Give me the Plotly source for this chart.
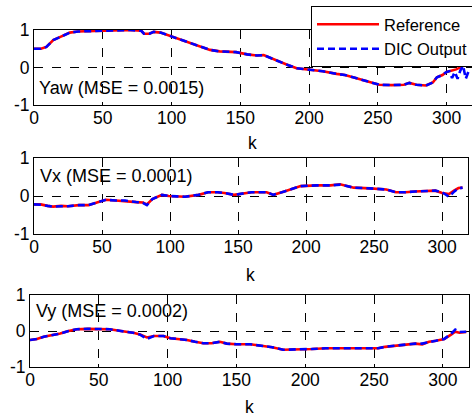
import plotly.graph_objects as go

# ---------------- data ----------------
yaw_k = [0, 5, 9, 14, 20, 26, 32, 40, 50, 60, 70, 78, 80, 84, 87, 92, 100, 110, 121, 128,
         135, 142, 147, 155, 162, 167, 172, 178, 185, 191, 200, 210, 220, 226, 232, 238, 244,
         251, 260, 269, 273, 278, 285, 290, 293, 297, 300, 304, 307, 311, 313, 316]
yaw_ref = [0.5, 0.5, 0.55, 0.73, 0.83, 0.93, 0.96, 0.97, 0.98, 1.0, 1.0, 0.98, 0.9, 0.9, 0.95,
           0.93, 0.83, 0.7, 0.55, 0.47, 0.43, 0.42, 0.41, 0.35, 0.32, 0.33, 0.25, 0.16, 0.06,
           -0.02, -0.06, -0.1, -0.17, -0.2, -0.26, -0.32, -0.37, -0.46, -0.47, -0.46, -0.41,
           -0.46, -0.48, -0.4, -0.26, -0.2, -0.12, -0.08, -0.05, 0.02, 0.08, 0.08]
yaw_dic_k = yaw_k[:47] + [302, 304, 306, 308, 310, 312, 314, 316]
yaw_dic = yaw_ref[:47] + [-0.1, -0.28, -0.12, -0.3, -0.08, 0.05, -0.3, -0.1]

vx_k = [0, 5, 10, 14, 20, 25, 33, 40, 48, 53, 60, 67, 75, 80, 83, 87, 94, 99, 105, 111, 121,
        128, 135, 140, 147, 153, 160, 171, 176, 184, 190, 196, 208, 218, 225, 230, 235, 247,
        259, 266, 273, 280, 288, 295, 300, 305, 309, 312, 315]
vx_ref = [-0.22, -0.22, -0.26, -0.28, -0.26, -0.27, -0.24, -0.24, -0.15, -0.1, -0.12, -0.13,
          -0.16, -0.17, -0.22, -0.08, 0.03, 0.0, -0.01, -0.02, 0.03, 0.1, 0.1, 0.08, 0.03, 0.07,
          0.1, 0.1, 0.03, 0.12, 0.2, 0.26, 0.28, 0.28, 0.31, 0.26, 0.22, 0.2, 0.17, 0.1, 0.1,
          0.12, 0.13, 0.14, 0.08, 0.05, 0.15, 0.21, 0.22]
vx_dic = [-0.22, -0.23, -0.26, -0.28, -0.27, -0.27, -0.24, -0.24, -0.15, -0.1, -0.12, -0.12,
          -0.16, -0.18, -0.24, -0.08, 0.03, 0.0, -0.01, -0.02, 0.03, 0.1, 0.1, 0.08, 0.03, 0.07,
          0.1, 0.1, 0.03, 0.12, 0.2, 0.26, 0.28, 0.28, 0.3, 0.26, 0.22, 0.2, 0.17, 0.1, 0.1,
          0.12, 0.13, 0.14, 0.1, -0.02, 0.12, 0.2, 0.22]

vy_k = [0, 5, 10, 16, 22, 28, 34, 42, 50, 58, 66, 75, 80, 85, 90, 97, 102, 108, 114, 120,
        126, 132, 138, 143, 150, 160, 169, 176, 184, 190, 198, 205, 215, 229, 240, 253, 258,
        264, 272, 280, 285, 290, 295, 301, 306, 309, 312, 317]
vy_ref = [-0.25, -0.22, -0.16, -0.12, -0.07, 0.0, 0.05, 0.06, 0.05, 0.05, 0.0, -0.05, -0.1,
          -0.18, -0.14, -0.14, -0.2, -0.22, -0.25, -0.3, -0.34, -0.34, -0.3, -0.35, -0.37,
          -0.37, -0.42, -0.45, -0.52, -0.52, -0.52, -0.5, -0.48, -0.48, -0.48, -0.48, -0.44,
          -0.41, -0.38, -0.35, -0.37, -0.3, -0.27, -0.22, -0.1, -0.02, -0.05, -0.03]
vy_dic = [-0.25, -0.22, -0.16, -0.12, -0.07, 0.0, 0.05, 0.06, 0.05, 0.05, 0.0, -0.05, -0.1,
          -0.22, -0.14, -0.14, -0.2, -0.22, -0.25, -0.3, -0.34, -0.34, -0.3, -0.35, -0.37,
          -0.37, -0.42, -0.45, -0.52, -0.52, -0.52, -0.5, -0.48, -0.48, -0.48, -0.48, -0.44,
          -0.41, -0.38, -0.35, -0.35, -0.3, -0.27, -0.22, -0.08, 0.04, -0.03, -0.02]

panel_labels = ["Yaw (MSE = 0.0015)", "Vx (MSE = 0.0001)", "Vy (MSE = 0.0002)"]
x_ticks = [0, 50, 100, 150, 200, 250, 300]
y_ticks = [-1, 0, 1]
series_names = ["Reference", "DIC Output"]

# ---------------- layout geometry (pixels) ----------------
W, H = 472, 418
def px_x(p): return p / W
def px_y(p): return 1 - p / H

panels = [
    dict(x0=34, x1=472, y0=30, y1=105, xmax=318.5, data=(yaw_k, yaw_ref, yaw_dic_k, yaw_dic),
         lab_y=88, lab_x=37, k_y=143, k_x=252),
    dict(x0=34, x1=468, y0=158, y1=234, xmax=319, data=(vx_k, vx_ref, vx_k, vx_dic),
         lab_y=176, lab_x=38, k_y=275, k_x=250),
    dict(x0=30, x1=469, y0=295, y1=367, xmax=319, data=(vy_k, vy_ref, vy_k, vy_dic),
         lab_y=311, lab_x=34, k_y=407, k_x=249),
]

FONT = "Liberation Sans, Arial, sans-serif"
FS = 17.5
fig = go.Figure()
layout = dict(
    width=W, height=H, margin=dict(l=0, r=0, t=0, b=0, autoexpand=False),
    paper_bgcolor="white", plot_bgcolor="white",
    font=dict(family=FONT, size=FS, color="black"),
    showlegend=True,
    legend=dict(x=px_x(311), y=px_y(6), xanchor="left", yanchor="top",
                bgcolor="white", bordercolor="black", borderwidth=1,
                font=dict(family=FONT, size=16.5, color="black"),
                tracegroupgap=0, itemwidth=62),
)
annotations = []
for i, p in enumerate(panels):
    n = "" if i == 0 else str(i + 1)
    kr, vr, kd, vd = p["data"]
    fig.add_trace(go.Scatter(x=kr, y=vr, mode="lines", name=series_names[0],
                             line=dict(color="#ff0000", width=2.6),
                             xaxis="x" + n, yaxis="y" + n, showlegend=(i == 0)))
    fig.add_trace(go.Scatter(x=kd, y=vd, mode="lines", name=series_names[1],
                             line=dict(color="#0000ff", width=2.6, dash="7px,4px"),
                             xaxis="x" + n, yaxis="y" + n, showlegend=(i == 0)))
    layout["xaxis" + n] = dict(
        domain=[px_x(p["x0"]), px_x(p["x1"])], range=[0, p["xmax"]], anchor="y" + n,
        tickvals=x_ticks, ticktext=[str(t) for t in x_ticks],
        showgrid=True, gridcolor="black", griddash="dash", gridwidth=1,
        showline=True, linecolor="black", linewidth=1, mirror=True,
        zeroline=False, ticks="inside", ticklen=3, tickcolor="black",
        tickfont=dict(size=FS, color="black"), ticklabelstandoff=-3,
    )
    layout["yaxis" + n] = dict(
        domain=[px_y(p["y1"]), px_y(p["y0"])], range=[-1, 1], anchor="x" + n,
        tickvals=y_ticks, ticktext=[str(t) for t in y_ticks],
        showgrid=True, gridcolor="black", griddash="dash", gridwidth=1,
        showline=True, linecolor="black", linewidth=1, mirror=True,
        zeroline=False, ticks="inside", ticklen=3, tickcolor="black",
        tickfont=dict(size=FS, color="black"),
    )
    annotations.append(dict(text=panel_labels[i], xref="paper", yref="paper",
                            x=px_x(p["lab_x"]), y=px_y(p["lab_y"]),
                            xanchor="left", yanchor="middle", showarrow=False,
                            font=dict(size=18, color="black")))
    annotations.append(dict(text="k", xref="paper", yref="paper",
                            x=px_x(p["k_x"]), y=px_y(p["k_y"]),
                            xanchor="center", yanchor="middle", showarrow=False,
                            font=dict(size=FS, color="black")))
layout["annotations"] = annotations
fig.update_layout(**layout)
fig.write_html("out.html")
